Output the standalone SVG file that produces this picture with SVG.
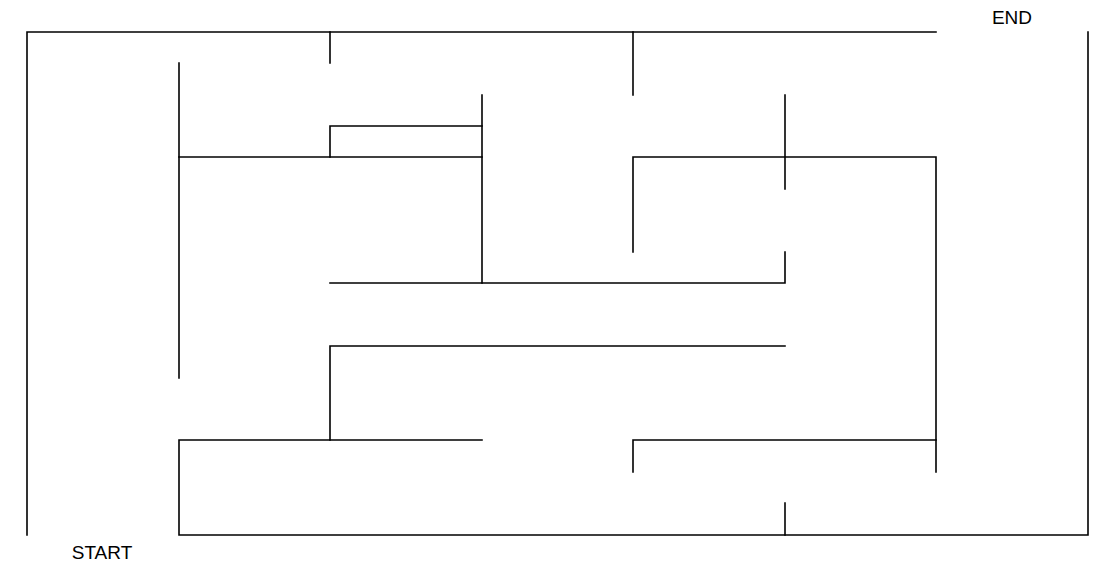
<svg xmlns="http://www.w3.org/2000/svg" width="1116" height="568" viewBox="0 0 1116 568">
<style>
.w{stroke:#000;stroke-width:1.6;fill:none;stroke-linecap:square}
.t{font-family:"Liberation Sans",Arial,sans-serif;font-size:19px;fill:#000;text-anchor:middle}
</style>
<rect width="1116" height="568" fill="#fff"/>
<g id="walls" class="w">
<path d="M936,32 H27 V535"/>
<path d="M1088,32 V535 H179 V440 H482"/>
<path d="M330,32 V63"/>
<path d="M633,32 V95"/>
<path d="M179,63 V378"/>
<path d="M179,157 H482"/>
<path d="M330,157 V126 H482"/>
<path d="M482,95 V283"/>
<path d="M330,283 H785 V252"/>
<path d="M633,252 V157 H936 V472"/>
<path d="M785,95 V189"/>
<path d="M785,346 H330 V440"/>
<path d="M633,472 V440 H936"/>
<path d="M785,503 V535"/>
</g>
<g id="end"><text class="t" x="1012" y="24">END</text></g>
<g id="start"><text class="t" x="102" y="559">START</text></g>
</svg>
